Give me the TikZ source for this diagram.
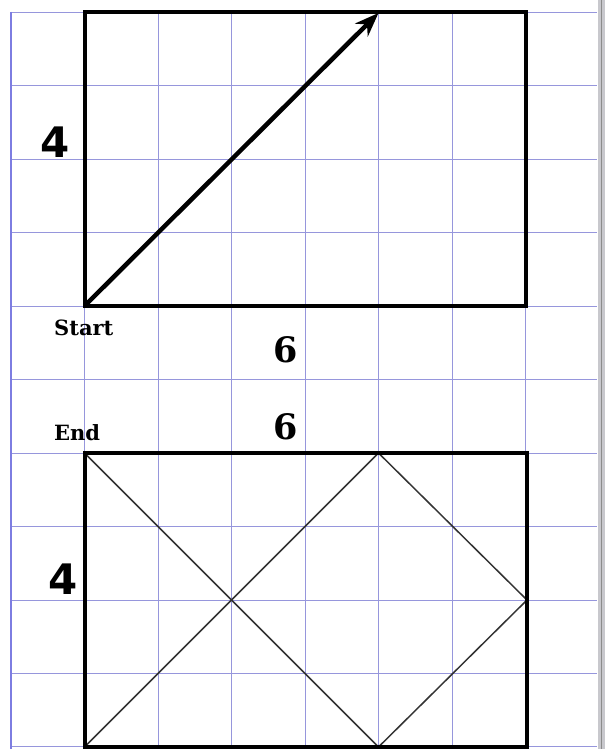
\documentclass[tikz,border=0pt]{standalone}
\usepackage{fontspec}
\usetikzlibrary{arrows.meta}
\newfontfamily\labsans{DejaVu Sans}
\newfontfamily\labserif{DejaVu Serif}
\definecolor{gridblue}{RGB}{150,150,220}
\definecolor{edgeblue}{RGB}{125,125,225}
\definecolor{barGray}{RGB}{200,200,205}
\begin{document}
\begin{tikzpicture}[x=1pt,y=-1pt,
  gridline/.style={draw=gridblue,line width=1.8pt},
  edgeline/.style={draw=edgeblue,line width=2.6pt},
  boxline/.style={draw=black,line width=4pt,line join=miter},
  diagline/.style={draw=black!80,line width=1.5pt},
  arrowline/.style={draw=black,line width=4.5pt,-{Stealth[length=24pt,width=18pt]}},
  bignum/.style={inner sep=0pt,font=\labsans\bfseries\fontsize{42}{42}\selectfont},
  sidenum/.style={inner sep=0pt,font=\labserif\bfseries\fontsize{35}{35}\selectfont},
  tag/.style={inner sep=0pt,anchor=base west,font=\labserif\bfseries\fontsize{21}{21}\selectfont}]
\useasboundingbox (0,0) rectangle (605,749);
\fill[white] (0,0) rectangle (605,749);
% grid
\foreach \x in {84.5,158.5,231.5,305.5,378.5,452.5,525.5,598.5}
  \draw[gridline] (\x,12) -- (\x,749);
\foreach \y in {12.5,85.5,159.5,232.5,306.5,379.5,453.5,526.5,600.5,673.5,746.5}
  \draw[gridline] (11,\y) -- (597,\y);
\draw[edgeline] (11,12) -- (11,749);
% right bar
\fill[barGray] (598,0) rectangle (605,749);
\draw[black!45,line width=1pt] (601.5,0) -- (601.5,749);
% corners
\coordinate (s) at (84.5,306);
\coordinate (tl) at (84.5,12);
\coordinate (tr) at (525.5,12);
\coordinate (br) at (525.5,306);
\coordinate (tip) at (378.5,13);
\coordinate (e) at (84.5,453);
\coordinate (er) at (527,453);
\coordinate (ebl) at (84.5,747);
\coordinate (ebr) at (527,747);
\coordinate (em) at (378.5,453);
\coordinate (ebm) at (378.5,747);
\coordinate (erm) at (527,600);
% top rectangle
\draw[boxline] (tl) -- (tr) -- (br) -- (s) -- cycle;
\draw[arrowline] (s) -- (tip);
% bottom rectangle
\draw[diagline] (e) -- (ebm);
\draw[diagline] (ebl) -- (em);
\draw[diagline] (em) -- (erm) -- (ebm);
\draw[boxline] (e) -- (er) -- (ebr) -- (ebl) -- cycle;
% labels
\node[bignum] (four1) at (55,142.5) {4};
\node[bignum] (four2) at (63.5,579) {4};
\node[sidenum] (six1) at (286,349.5) {6};
\node[sidenum] (six2) at (286,427) {6};
\node[tag] (start) at (54,335) {Start};
\node[tag] (end) at (54,440) {End};
\end{tikzpicture}
\end{document}
